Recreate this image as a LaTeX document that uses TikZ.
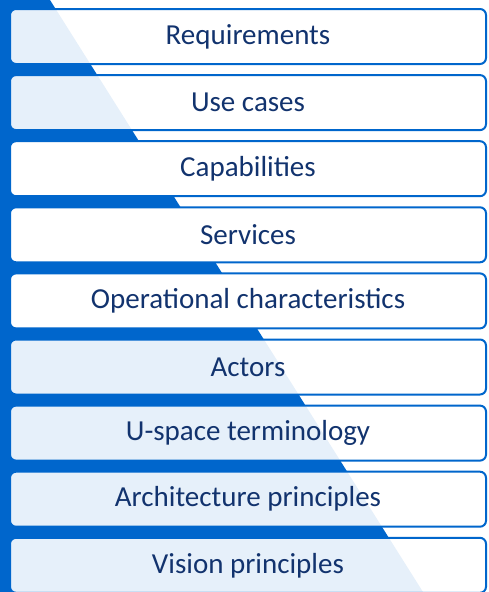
\documentclass[tikz,border=0pt]{standalone}
\usepackage{fontspec}
\setmainfont{Carlito}
\usepackage{tikz}
\usetikzlibrary{positioning}
\definecolor{ublue}{HTML}{0066CC}
\definecolor{utext}{HTML}{12336E}
\def\bluewedge{(0,0) -- (50,0) -- (423,592) -- (0,592) -- cycle}
\def\pageframe{(0,0) rectangle (488,592)}

\begin{document}
\begin{tikzpicture}[x=1pt, y=-1pt, node distance=9.1pt,
	layer/.style={draw=ublue, line width=2pt, rounded corners=6pt, fill=white,
		minimum width=476pt, minimum height=55pt, inner sep=0pt,
		text=utext, font=\fontsize{29}{34}\selectfont},
	seethru/.style={layer, fill opacity=0.9, text opacity=1}]
%	\draw[red] \pageframe;
	\useasboundingbox \pageframe;

	\fill[ublue] \bluewedge;
	\node[seethru] (req) at (248,36.5) {Requirements};
	\node[seethru, below=of req] (usecase) {Use cases};
	\node[layer, below=of usecase] (capab) {Capabilities};
	\node[layer, below=of capab] (serv) {Services};
	\node[layer, below=of serv] (opchar) {Operational characteristics};
	\node[seethru, below=of opchar] (actors) {Actors};
	\node[seethru, below=of actors] (terms) {U-space terminology};
	\node[seethru, below=of terms] (archpr) {Architecture principles};
	\node[seethru, below=of archpr] (vispr) {Vision principles};
\end{tikzpicture}
\end{document}
